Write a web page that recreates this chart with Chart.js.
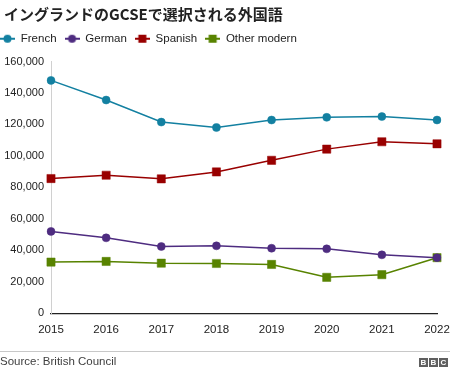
<!DOCTYPE html>
<html>
<head>
<meta charset="utf-8">
<script src="https://cdn.jsdelivr.net/npm/chart.js@4/dist/chart.umd.min.js"></script>
<style>
  html, body { margin: 0; padding: 0; background: #fff; }
  #wrap { width: 450px; height: 371px; position: relative; }
</style>
</head>
<body>
<div id="wrap"><canvas id="chart"></canvas></div>
<script>
// データ
const years = ['2015', '2016', '2017', '2018', '2019', '2020', '2021', '2022'];
const french  = [148000, 135500, 121500, 118000, 122800, 124500, 125000, 122800];
const german  = [52000, 47900, 42400, 42800, 41300, 40900, 37100, 35300];
const spanish = [85600, 87700, 85400, 89800, 97200, 104300, 109000, 107700];
const other   = [32500, 32900, 31800, 31600, 31000, 22800, 24500, 35300];
const seriesNames = ['French', 'German', 'Spanish', 'Other modern'];
const yTicks = [0, 20000, 40000, 60000, 80000, 100000, 120000, 140000, 160000];

const colors = ['#1380A1', '#4e2c80', '#990000', '#588300'];
const styles = ['circle', 'circle', 'rect', 'rect'];
const FONT = "'Liberation Sans', Arial, Helvetica, sans-serif";

// 凡例のマーカー（線＋点）
function legendMarker(color, style) {
    const c = document.createElement('canvas');
    c.width = 15; c.height = 10;
    const g = c.getContext('2d');
    g.strokeStyle = color;
    g.lineWidth = 2;
    g.beginPath();
    g.moveTo(0, 5); g.lineTo(15, 5);
    g.stroke();
    g.fillStyle = color;
    if (style === 'circle') {
        g.beginPath();
        g.arc(7.5, 5, 4, 0, Math.PI * 2);
        g.fill();
    } else {
        g.fillRect(3.5, 1, 8, 8);
    }
    return c;
}

function makeSet(i, values) {
    return {
        label: seriesNames[i],
        data: values,
        borderColor: colors[i],
        backgroundColor: colors[i],
        borderWidth: 1.5,
        pointStyle: styles[i],
        pointRadius: styles[i] === 'circle' ? 4 : 5.8,
        pointBorderWidth: 0.5,
        pointBorderColor: colors[i],
        tension: 0
    };
}

// 凡例の位置調整（左寄せ・下の余白）
const legendTweak = {
    id: 'legendTweak',
    beforeUpdate(chart) {
        const lg = chart.legend;
        if (lg && !lg._tweaked) {
            const fit = lg.fit.bind(lg);
            lg.fit = function () { fit(); this.height += 7; };
            lg._tweaked = true;
        }
    },
    afterLayout(chart) {
        chart.legend.left -= 12;
        chart.legend.right -= 12;
    }
};

// フッター（出典とロゴ）
const footer = {
    id: 'footer',
    afterDraw(chart) {
        const ctx = chart.ctx;
        ctx.save();
        ctx.strokeStyle = '#c8c8c8';
        ctx.lineWidth = 1;
        ctx.beginPath();
        ctx.moveTo(0, 351.5); ctx.lineTo(450, 351.5);
        ctx.stroke();

        ctx.fillStyle = '#404040';
        ctx.font = '11.5px ' + FONT;
        ctx.textBaseline = 'middle';
        ctx.textAlign = 'left';
        ctx.fillText('Source: British Council', 0, 362);

        const letters = ['B', 'B', 'C'];
        ctx.font = 'bold 8px ' + FONT;
        ctx.textAlign = 'center';
        for (let i = 0; i < 3; i++) {
            const x = 419 + i * 10;
            ctx.fillStyle = '#5f5f5f';
            ctx.fillRect(x, 358, 9, 9);
            ctx.fillStyle = '#fff';
            ctx.fillText(letters[i], x + 4.5, 362.8);
        }
        ctx.restore();
    }
};

new Chart(document.getElementById('chart'), {
    type: 'line',
    data: {
        labels: years,
        datasets: [makeSet(0, french), makeSet(1, german), makeSet(2, spanish), makeSet(3, other)]
    },
    options: {
        responsive: true,
        maintainAspectRatio: false,
        animation: false,
        events: [],
        layout: { padding: { left: 4, right: 0, top: 3, bottom: 24 } },
        plugins: {
            title: {
                display: true,
                text: 'イングランドのGCSEで選択される外国語',
                align: 'start',
                color: '#222',
                font: { family: "'Noto Sans CJK JP', sans-serif", size: 15, weight: 'bold' },
                padding: { top: 2, bottom: 2 }
            },
            legend: {
                display: true,
                align: 'start',
                labels: {
                    usePointStyle: true,
                    pointStyleWidth: 15,
                    color: '#222',
                    padding: 8,
                    font: { family: FONT, size: 11.5 },
                    generateLabels(chart) {
                        return chart.data.datasets.map((ds, i) => ({
                            text: ds.label,
                            pointStyle: legendMarker(colors[i], styles[i]),
                            fillStyle: colors[i],
                            strokeStyle: colors[i],
                            lineWidth: 0,
                            datasetIndex: i,
                            fontColor: '#222'
                        }));
                    }
                }
            },
            tooltip: { enabled: false }
        },
        scales: {
            x: {
                offset: false,
                grid: { display: false, drawTicks: false },
                border: { display: true, color: '#222', width: 1.2 },
                ticks: {
                    color: '#222',
                    padding: 10,
                    maxRotation: 0,
                    font: { family: FONT, size: 11.5 }
                },
                afterFit(scale) {
                    scale.paddingLeft = 0;
                    scale.paddingRight = 13;
                }
            },
            y: {
                min: 0,
                max: 160000,
                afterBuildTicks(scale) {
                    scale.ticks = yTicks.map(v => ({ value: v }));
                },
                afterFit(scale) {
                    scale.width = 47;
                },
                grid: { display: false, drawTicks: false },
                border: { display: true, color: '#d0d0d0', width: 1 },
                ticks: {
                    color: '#222',
                    padding: 7,
                    font: { family: FONT, size: 11 },
                    callback: v => v.toLocaleString('en-US')
                }
            }
        }
    },
    plugins: [legendTweak, footer]
});
</script>
</body>
</html>
